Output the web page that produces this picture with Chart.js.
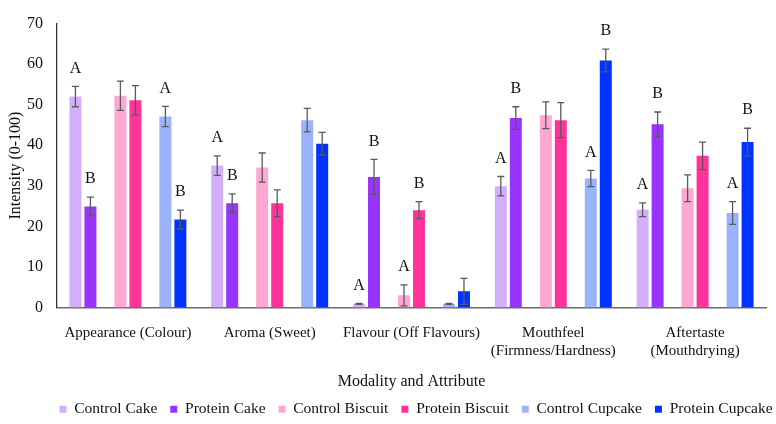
<!DOCTYPE html>
<html>
<head>
<meta charset="utf-8">
<script src="https://cdn.jsdelivr.net/npm/chart.js@4"></script>
<style>
  html, body { margin: 0; padding: 0; background: #fff; }
  #wrap { width: 776px; height: 424px; }
</style>
</head>
<body>
<div id="wrap"><canvas id="c" width="776" height="424"></canvas></div>
<script>
// ---- data ----
const categories = [
  'Appearance (Colour)',
  'Aroma (Sweet)',
  'Flavour (Off Flavours)',
  ['Mouthfeel', '(Firmness/Hardness)'],
  ['Aftertaste', '(Mouthdrying)']
];
const seriesNames = ['Control Cake', 'Protein Cake', 'Control Biscuit', 'Protein Biscuit', 'Control Cupcake', 'Protein Cupcake'];

const controlCake     = [52.0, 35.0, 0.9, 29.9, 24.1];
const proteinCake     = [24.9, 25.7, 32.2, 46.7, 45.2];
const controlBiscuit  = [52.2, 34.5, 3.0, 47.4, 29.4];
const proteinBiscuit  = [51.1, 25.7, 24.0, 46.2, 37.4];
const controlCupcake  = [47.1, 46.2, 0.9, 31.8, 23.3];
const proteinCupcake  = [21.7, 40.4, 4.0, 60.9, 40.8];

const errControlCake    = [2.5, 2.4, 0.1, 2.4, 1.7];
const errProteinCake    = [2.3, 2.3, 4.3, 2.8, 3.0];
const errControlBiscuit = [3.6, 3.6, 2.6, 3.3, 3.3];
const errProteinBiscuit = [3.6, 3.3, 2.1, 4.3, 3.4];
const errControlCupcake = [2.5, 2.9, 0.1, 2.0, 2.8];
const errProteinCupcake = [2.3, 2.8, 3.2, 2.8, 3.4];

const letControlCake    = ['A', 'A', 'A', 'A', 'A'];
const letProteinCake    = ['B', 'B', 'B', 'B', 'B'];
const letControlBiscuit = [null, null, 'A', null, null];
const letProteinBiscuit = [null, null, 'B', null, null];
const letControlCupcake = ['A', null, null, 'A', 'A'];
const letProteinCupcake = ['B', null, null, 'B', 'B'];

const yTicks = [0, 10, 20, 30, 40, 50, 60, 70];

// ---- styling ----
const colors = ['#d3affb', '#9933ff', '#ffa7d3', '#ff3399', '#9bb3fb', '#0033ff'];
const FONT = '"Liberation Serif", "Times New Roman", serif';
const TEXT = '#111';

const spacer = () => ({ label: '', data: categories.map(() => null), backgroundColor: 'rgba(0,0,0,0)', isSpacer: true, barPercentage: 0.8, categoryPercentage: 0.846 });
const mk = (i, data, err, lets) => ({
  label: seriesNames[i], data, err, lets,
  backgroundColor: colors[i], borderWidth: 0,
  barPercentage: 0.8, categoryPercentage: 0.846
});

const datasets = [
  mk(0, controlCake, errControlCake, letControlCake),
  mk(1, proteinCake, errProteinCake, letProteinCake),
  spacer(),
  mk(2, controlBiscuit, errControlBiscuit, letControlBiscuit),
  mk(3, proteinBiscuit, errProteinBiscuit, letProteinBiscuit),
  spacer(),
  mk(4, controlCupcake, errControlCupcake, letControlCupcake),
  mk(5, proteinCupcake, errProteinCupcake, letProteinCupcake)
];

const errorBars = {
  id: 'errorBars',
  afterDatasetsDraw(chart) {
    const ctx = chart.ctx;
    const y = chart.scales.y;
    ctx.save();
    chart.data.datasets.forEach((ds, di) => {
      if (!ds.err) return;
      const meta = chart.getDatasetMeta(di);
      meta.data.forEach((bar, i) => {
        const v = ds.data[i], e = ds.err[i];
        if (v == null) return;
        const x = bar.x;
        const yt = y.getPixelForValue(v + e);
        const yb = y.getPixelForValue(Math.max(0, v - e));
        ctx.strokeStyle = '#5a5a5a';
        ctx.lineWidth = 1.3;
        ctx.beginPath();
        ctx.moveTo(x, yt); ctx.lineTo(x, yb);
        ctx.moveTo(x - 3.5, yt); ctx.lineTo(x + 3.5, yt);
        ctx.moveTo(x - 3.5, yb); ctx.lineTo(x + 3.5, yb);
        ctx.stroke();
        const L = ds.lets && ds.lets[i];
        if (L) {
          ctx.fillStyle = TEXT;
          ctx.font = '16px ' + FONT;
          ctx.textAlign = 'center';
          ctx.textBaseline = 'middle';
          ctx.fillText(L, x, yt - 18);
        }
      });
    });
    ctx.restore();
  }
};

// shift the legend row right/down, as in the reference
const legendShift = {
  id: 'legendShift',
  afterLayout(chart) {
    const lg = chart.legend;
    if (lg) { lg.left += 33; lg.right += 33; lg.top += 3; lg.bottom += 3; }
  }
};

new Chart(document.getElementById('c'), {
  type: 'bar',
  data: { labels: categories, datasets },
  plugins: [errorBars, legendShift],
  options: {
    responsive: false,
    animation: false,
    devicePixelRatio: 1,
    layout: { padding: { left: 0, right: 10, top: 12, bottom: 0 } },
    plugins: {
      legend: {
        position: 'bottom',
        labels: {
          filter: (item, data) => !data.datasets[item.datasetIndex].isSpacer,
          boxWidth: 7, boxHeight: 7, padding: 13,
          color: TEXT,
          font: { family: FONT, size: 15.5 }
        }
      },
      tooltip: { enabled: false }
    },
    scales: {
      x: {
        grid: { display: false, drawTicks: false },
        border: { display: true, color: '#6b6b6b', width: 1.5 },
        ticks: { color: TEXT, font: { family: FONT, size: 15 }, padding: 17, maxRotation: 0, autoSkip: false },
        title: { display: true, text: 'Modality and Attribute', color: TEXT, font: { family: FONT, size: 16 }, padding: { top: 8, bottom: -6 } },
        afterFit: s => { s.height = 78; }
      },
      y: {
        min: 0, max: 70,
        afterBuildTicks: s => { s.ticks = yTicks.map(v => ({ value: v })); },
        grid: { display: false, drawTicks: false },
        border: { display: true, color: '#333', width: 1.3 },
        ticks: { color: TEXT, font: { family: FONT, size: 16 }, padding: 14 },
        title: { display: true, text: 'Intensity (0-100)', color: TEXT, font: { family: FONT, size: 16 }, padding: { top: 6, bottom: 0 } },
        afterFit: s => { s.width = 57; }
      }
    }
  }
});
</script>
</body>
</html>
